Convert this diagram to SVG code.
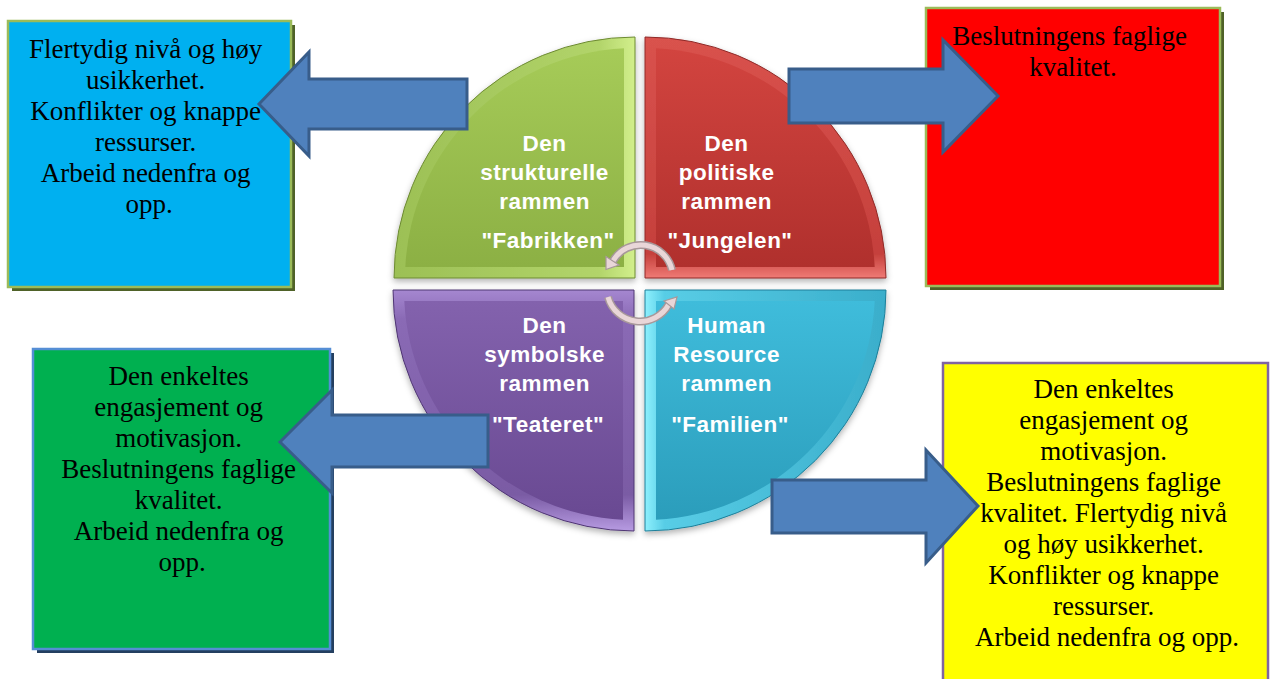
<svg xmlns="http://www.w3.org/2000/svg" width="1270" height="679" viewBox="0 0 1270 679">
  <style>
    .box-text { font-family: "Liberation Serif", "Times New Roman", serif; font-size: 27px; fill: #000; text-anchor: middle; }
    .quad-text { font-family: "Liberation Sans", Arial, sans-serif; font-size: 22.5px; font-weight: bold; fill: #fff; text-anchor: middle; letter-spacing: 0.5px; }
    .block-arrow { fill: #4f81bd; stroke: #385d8a; stroke-width: 3; stroke-linejoin: miter; }
    .cycle-line-outer { fill: none; stroke: #a8989a; stroke-width: 8; }
    .cycle-line-inner { fill: none; stroke: #e9d6d8; stroke-width: 5; }
    .cycle-head { fill: #e9d6d8; stroke: #a8989a; stroke-width: 1.2; }
  </style>
  <defs>
    <filter id="softShadow" x="-10%" y="-10%" width="120%" height="125%">
      <feDropShadow dx="0" dy="3" stdDeviation="3" flood-color="#000" flood-opacity="0.3"/>
    </filter>
    <linearGradient id="greenFace" x1="0" y1="0" x2="0" y2="1">
      <stop offset="0" stop-color="#a6cb58"/>
      <stop offset="1" stop-color="#8cb044"/>
    </linearGradient>
    <linearGradient id="greenEdge" x1="0" y1="0" x2="1" y2="0">
      <stop offset="0" stop-color="#9cc055"/>
      <stop offset="0.85" stop-color="#b2d46a"/>
      <stop offset="1" stop-color="#d2ef8c"/>
    </linearGradient>
    <linearGradient id="redFace" x1="0" y1="0" x2="0" y2="1">
      <stop offset="0" stop-color="#d2443f"/>
      <stop offset="1" stop-color="#b0302d"/>
    </linearGradient>
    <linearGradient id="redEdge" x1="0" y1="0" x2="0" y2="1">
      <stop offset="0" stop-color="#d9524d"/>
      <stop offset="0.9" stop-color="#c5403c"/>
      <stop offset="1" stop-color="#ef7a75"/>
    </linearGradient>
    <linearGradient id="purpleFace" x1="0" y1="0" x2="0" y2="1">
      <stop offset="0" stop-color="#8362ad"/>
      <stop offset="1" stop-color="#694992"/>
    </linearGradient>
    <linearGradient id="purpleEdge" x1="0" y1="0" x2="0" y2="1">
      <stop offset="0" stop-color="#a587d0"/>
      <stop offset="0.12" stop-color="#8a6ab5"/>
      <stop offset="0.85" stop-color="#7a5ba4"/>
      <stop offset="1" stop-color="#b79be2"/>
    </linearGradient>
    <linearGradient id="cyanFace" x1="0" y1="0" x2="0" y2="1">
      <stop offset="0" stop-color="#3fbcdb"/>
      <stop offset="1" stop-color="#2b9dbb"/>
    </linearGradient>
    <linearGradient id="cyanEdge" x1="0" y1="0" x2="1" y2="0">
      <stop offset="0" stop-color="#8ef0fd"/>
      <stop offset="0.08" stop-color="#58cde6"/>
      <stop offset="1" stop-color="#3aaecb"/>
    </linearGradient>
  </defs>

  <rect x="0" y="0" width="1270" height="679" fill="#ffffff"/>

  <!-- outcome boxes -->
  <g id="box-top-left">
    <rect x="12" y="25" width="283" height="266" fill="#4f6228"/>
    <rect x="8" y="21" width="283" height="266" fill="#00b0f0" stroke="#9bbb59" stroke-width="2.5"/>
    <text class="box-text">
      <tspan x="149" y="58">Flertydig nivå og høy</tspan>
      <tspan x="149" y="89">usikkerhet.</tspan>
      <tspan x="149" y="120">Konflikter og knappe</tspan>
      <tspan x="149" y="151">ressurser.</tspan>
      <tspan x="149" y="182">Arbeid nedenfra og</tspan>
      <tspan x="149" y="213">opp.</tspan>
    </text>
  </g>

  <g id="box-top-right">
    <rect x="930" y="12" width="294" height="278" fill="#4f6228"/>
    <rect x="926" y="8" width="294" height="278" fill="#ff0000" stroke="#9bbb59" stroke-width="2.5"/>
    <text class="box-text">
      <tspan x="1073" y="45">Beslutningens faglige</tspan>
      <tspan x="1073" y="76">kvalitet.</tspan>
    </text>
  </g>

  <g id="box-bottom-left">
    <rect x="37" y="353" width="297" height="300" fill="#243f60"/>
    <rect x="33" y="349" width="297" height="300" fill="#00b050" stroke="#558ed5" stroke-width="2.5"/>
    <text class="box-text">
      <tspan x="182" y="385">Den enkeltes</tspan>
      <tspan x="182" y="416">engasjement og</tspan>
      <tspan x="182" y="447">motivasjon.</tspan>
      <tspan x="182" y="478">Beslutningens faglige</tspan>
      <tspan x="182" y="509">kvalitet.</tspan>
      <tspan x="182" y="540">Arbeid nedenfra og</tspan>
      <tspan x="182" y="571">opp.</tspan>
    </text>
  </g>

  <g id="box-bottom-right">
    <rect x="943" y="363" width="325" height="330" fill="#ffff00" stroke="#8064a2" stroke-width="2.5"/>
    <text class="box-text">
      <tspan x="1107" y="398">Den enkeltes</tspan>
      <tspan x="1107" y="429">engasjement og</tspan>
      <tspan x="1107" y="460">motivasjon.</tspan>
      <tspan x="1107" y="491">Beslutningens faglige</tspan>
      <tspan x="1107" y="522">kvalitet. Flertydig nivå</tspan>
      <tspan x="1107" y="553">og høy usikkerhet.</tspan>
      <tspan x="1107" y="584">Konflikter og knappe</tspan>
      <tspan x="1107" y="615">ressurser.</tspan>
      <tspan x="1107" y="646">Arbeid nedenfra og opp.</tspan>
    </text>
  </g>

  <!-- four frames as bevelled quarter discs -->
  <g id="frame-structural">
    <path d="M635,278 H394 A241,241 0 0 1 635,37 Z" fill="url(#greenEdge)" stroke="#6d8a33" stroke-width="1" filter="url(#softShadow)"/>
    <path d="M624,267 H405.3 A230,230 0 0 1 624,48.3 Z" fill="url(#greenFace)"/>
    <text class="quad-text">
      <tspan x="548" y="151">Den</tspan>
      <tspan x="548" y="180">strukturelle</tspan>
      <tspan x="548" y="209">rammen</tspan>
      <tspan x="548" y="248">"Fabrikken"</tspan>
    </text>
  </g>

  <g id="frame-political">
    <path d="M645,278 V37 A241,241 0 0 1 886,278 Z" fill="url(#redEdge)" stroke="#8f2a28" stroke-width="1" filter="url(#softShadow)"/>
    <path d="M656,267 V48.3 A230,230 0 0 1 874.7,267 Z" fill="url(#redFace)"/>
    <text class="quad-text">
      <tspan x="730" y="151">Den</tspan>
      <tspan x="730" y="180">politiske</tspan>
      <tspan x="730" y="209">rammen</tspan>
      <tspan x="730" y="248">"Jungelen"</tspan>
    </text>
  </g>

  <g id="frame-symbolic">
    <path d="M634,290 H393 A241,241 0 0 0 634,531 Z" fill="url(#purpleEdge)" stroke="#4f3673" stroke-width="1" filter="url(#softShadow)"/>
    <path d="M623,301 H404.3 A230,230 0 0 0 623,519.7 Z" fill="url(#purpleFace)"/>
    <text class="quad-text">
      <tspan x="548" y="333">Den</tspan>
      <tspan x="548" y="362">symbolske</tspan>
      <tspan x="548" y="391">rammen</tspan>
      <tspan x="548" y="432">"Teateret"</tspan>
    </text>
  </g>

  <g id="frame-human-resource">
    <path d="M645,290 H886 A241,241 0 0 1 645,531 Z" fill="url(#cyanEdge)" stroke="#1e7f99" stroke-width="1" filter="url(#softShadow)"/>
    <path d="M656,301 H874.7 A230,230 0 0 1 656,519.7 Z" fill="url(#cyanFace)"/>
    <text class="quad-text">
      <tspan x="730" y="333">Human</tspan>
      <tspan x="730" y="362">Resource</tspan>
      <tspan x="730" y="391">rammen</tspan>
      <tspan x="730" y="432">"Familien"</tspan>
    </text>
  </g>

  <!-- connectors: cycle arrows in the centre and block arrows to the boxes -->
  <g id="connectors">
    <path class="cycle-line-outer" d="M672,270 A32,32 0 0 0 613,261"/>
    <path class="cycle-line-inner" d="M672,270 A32,32 0 0 0 613,261"/>
    <polygon class="cycle-head" points="619,265 606,256.5 606,269.5"/>

    <path class="cycle-line-outer" d="M608,297 A33,33 0 0 0 669,304"/>
    <path class="cycle-line-inner" d="M608,297 A33,33 0 0 0 669,304"/>
    <polygon class="cycle-head" points="664,301 677,297 674,309"/>

    <polygon class="block-arrow" points="259,104 309,52 309,79 467,79 467,129 309,129 309,156"/>
    <polygon class="block-arrow" points="789,69 943,69 943,40 998,96 943,152 943,123 789,123"/>
    <polygon class="block-arrow" points="280,442 332,390 332,415 488,415 488,467 332,467 332,493"/>
    <polygon class="block-arrow" points="772,480 926,480 926,450 978,506 926,563 926,533 772,533"/>
  </g>
</svg>
